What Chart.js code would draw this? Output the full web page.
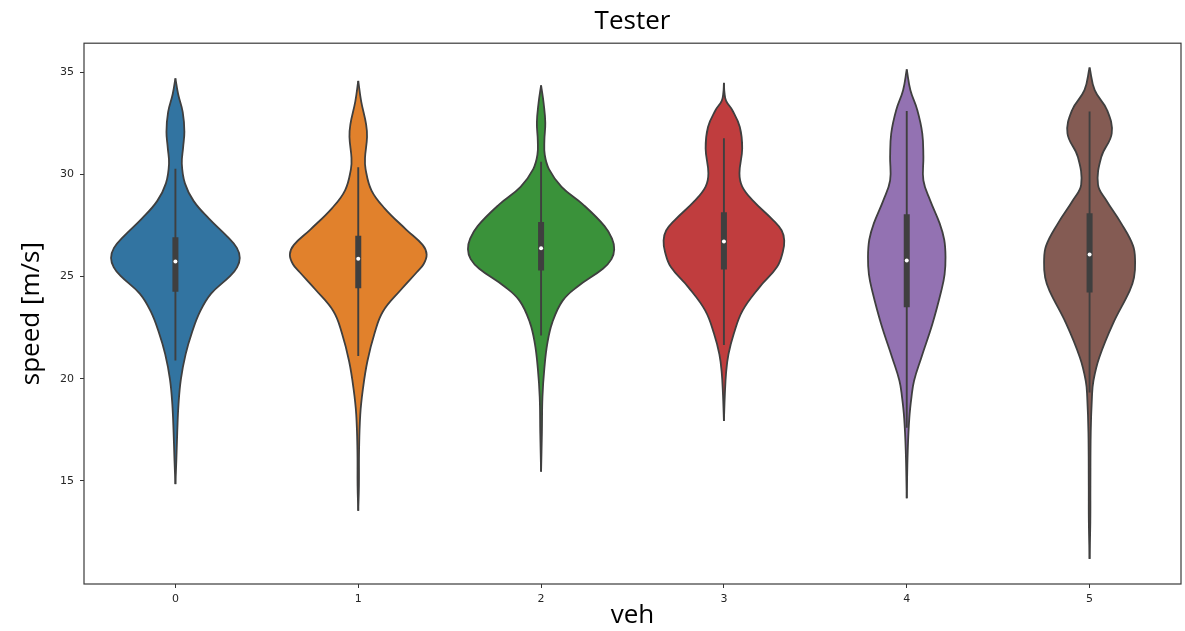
<!DOCTYPE html>
<html>
<head>
<meta charset="utf-8">
<title>Tester</title>
<script src="https://cdn.jsdelivr.net/npm/chart.js@4/dist/chart.umd.min.js"></script>
<style>
  html, body { margin: 0; padding: 0; background: #ffffff; }
  #wrap { width: 1185px; height: 631px; }
</style>
</head>
<body>
<div id="wrap"><canvas id="chart" width="1185" height="631"></canvas></div>
<script>
// Vehicle categories and y tick values
const categories = ['0', '1', '2', '3', '4', '5'];
const yTickValues = [15, 20, 25, 30, 35];
const fillColors = ['#3274a1', '#e1812c', '#3a923a', '#c03d3e', '#9372b2', '#845b53'];

// Kernel density outlines per vehicle: [speed m/s, half-width in category units]
const violin0 = [[14.84, 0], [15.98, 0.005], [17.37, 0.010], [18.76, 0.017], [19.98, 0.030], [21.20, 0.056],
  [22.25, 0.090], [23.29, 0.135], [24.16, 0.195], [25.03, 0.300], [25.45, 0.337], [25.91, 0.352],
  [26.40, 0.336], [26.95, 0.284], [27.82, 0.185], [28.69, 0.100], [29.56, 0.052], [30.52, 0.035],
  [31.31, 0.042], [32.09, 0.049], [33.05, 0.040], [33.92, 0.015], [34.70, 0]];
const violin1 = [[13.54, 0], [14.76, 0.0036], [16.50, 0.0045], [18.24, 0.011], [19.46, 0.025], [20.85, 0.050],
  [22.25, 0.090], [23.29, 0.135], [24.34, 0.232], [25.21, 0.320], [25.60, 0.357], [26.08, 0.374],
  [26.55, 0.352], [27.30, 0.262], [28.34, 0.144], [29.22, 0.072], [30.26, 0.040], [30.80, 0.037],
  [31.83, 0.048], [32.45, 0.043], [33.57, 0.016], [34.58, 0]];
const violin2 = [[15.45, 0], [17.37, 0.0045], [19.11, 0.0075], [20.51, 0.018], [21.72, 0.034], [22.77, 0.062],
  [23.82, 0.118], [24.51, 0.200], [25.38, 0.338], [25.85, 0.385], [26.34, 0.400], [26.85, 0.388],
  [27.47, 0.347], [28.52, 0.230], [29.39, 0.112], [30.26, 0.043], [30.96, 0.020], [31.65, 0.018],
  [32.53, 0.023], [33.48, 0.014], [34.36, 0]];
const violin3 = [[17.93, 0], [19.20, 0.005], [20.30, 0.012], [21.20, 0.025], [22.20, 0.054], [23.33, 0.102],
  [24.48, 0.195], [25.46, 0.290], [26.20, 0.322], [26.76, 0.330], [27.25, 0.316], [27.75, 0.270],
  [28.70, 0.160], [29.40, 0.100], [30.05, 0.085], [31.27, 0.100], [32.32, 0.087], [33.14, 0.046],
  [33.60, 0.012], [34.00, 0.003], [34.48, 0]];
const violin4 = [[14.15, 0], [16.50, 0.0055], [18.07, 0.014], [19.11, 0.026], [19.90, 0.040], [21.04, 0.080],
  [22.70, 0.141], [24.30, 0.189], [25.10, 0.207], [25.95, 0.212], [26.80, 0.205], [27.60, 0.180],
  [28.73, 0.128], [29.70, 0.091], [30.85, 0.091], [32.00, 0.085], [33.14, 0.058], [34.12, 0.020],
  [35.14, 0]];
const violin5 = [[11.18, 0], [13.00, 0.004], [14.76, 0.0045], [17.37, 0.0063], [19.11, 0.013], [19.90, 0.021],
  [21.04, 0.053], [22.70, 0.128], [24.30, 0.219], [24.95, 0.243], [25.70, 0.249], [26.50, 0.238],
  [27.60, 0.173], [28.73, 0.091], [29.50, 0.046], [30.85, 0.064], [32.00, 0.121], [33.14, 0.096],
  [34.12, 0.028], [35.23, 0]];
const violins = [violin0, violin1, violin2, violin3, violin4, violin5];

// Inner box summary per vehicle
const whiskerLow  = [20.89, 21.11, 22.11, 21.65, 17.60, 19.32];
const quartile1   = [24.25, 24.43, 25.30, 25.34, 23.50, 24.22];
const medianSpeed = [25.73, 25.87, 26.38, 26.72, 25.78, 26.08];
const quartile3   = [26.92, 26.99, 27.67, 28.15, 28.05, 28.10];
const whiskerHigh = [30.28, 30.35, 30.62, 31.77, 33.10, 33.08];

const gray = '#3f3f3f';
const datasets = [];

// Violin bodies: right edge followed by left edge, filled between the two
violins.forEach((profile, i) => {
  datasets.push({
    data: profile.map(([v, w]) => ({ x: i + w, y: v })),
    borderColor: gray, borderWidth: 1.8, pointRadius: 0,
    tension: 0.4, fill: false, order: 3
  });
  datasets.push({
    data: profile.map(([v, w]) => ({ x: i - w, y: v })),
    borderColor: gray, borderWidth: 1.8, pointRadius: 0,
    tension: 0.4, fill: '-1', backgroundColor: fillColors[i], order: 3
  });
});

// Whiskers and interquartile boxes
categories.forEach((c, i) => {
  datasets.push({
    data: [{ x: i, y: whiskerLow[i] }, { x: i, y: whiskerHigh[i] }],
    borderColor: gray, borderWidth: 1.9, pointRadius: 0, fill: false, order: 2
  });
  datasets.push({
    data: [{ x: i, y: quartile1[i] }, { x: i, y: quartile3[i] }],
    borderColor: gray, borderWidth: 6, borderCapStyle: 'butt', pointRadius: 0, fill: false, order: 1
  });
});

// Median markers
datasets.push({
  data: medianSpeed.map((m, i) => ({ x: i, y: m })),
  showLine: false, pointRadius: 2, pointBorderWidth: 0,
  pointBackgroundColor: '#ffffff', fill: false, order: 0
});

// Box frame around the plotting area
const frame = {
  id: 'frame',
  afterDatasetsDraw(chart) {
    const { ctx, chartArea: a } = chart;
    ctx.save();
    ctx.strokeStyle = '#3a3a3a';
    ctx.lineWidth = 1.2;
    ctx.strokeRect(a.left, a.top, a.right - a.left, a.bottom - a.top);
    ctx.restore();
  }
};

const tickFont = { family: 'DejaVu Sans', size: 11 };
const labelFont = { family: 'Open Sans', size: 26, weight: 'normal' };

new Chart(document.getElementById('chart'), {
  type: 'line',
  data: { datasets },
  plugins: [frame],
  options: {
    responsive: false,
    devicePixelRatio: 1,
    animation: false,
    events: [],
    indexAxis: 'y',
    layout: { padding: { left: 0, right: 4, top: 0, bottom: 0 } },
    plugins: {
      legend: { display: false },
      tooltip: { enabled: false },
      title: {
        display: true, text: 'Tester', fullSize: false,
        color: '#000000', font: labelFont, padding: { top: 6, bottom: 6 }
      }
    },
    scales: {
      x: {
        type: 'linear', min: -0.5, max: 5.5,
        afterBuildTicks: s => { s.ticks = categories.map((c, i) => ({ value: i })); },
        afterFit: s => { s.height = 47; },
        grid: { display: true, drawOnChartArea: false, drawTicks: true, tickLength: 4, tickColor: '#333333' },
        border: { display: false },
        ticks: {
          autoSkip: false, maxRotation: 0, padding: 5, color: '#262626', font: tickFont,
          callback: v => categories[v]
        },
        title: { display: true, text: 'veh', color: '#000000', font: labelFont, padding: { top: 0, bottom: 0 } }
      },
      y: {
        type: 'linear', min: 9.95, max: 36.42,
        afterBuildTicks: s => { s.ticks = yTickValues.map(v => ({ value: v })); },
        afterFit: s => { s.width = 84; },
        grid: { display: true, drawOnChartArea: false, drawTicks: true, tickLength: 4, tickColor: '#333333' },
        border: { display: false },
        ticks: { padding: 6, color: '#262626', font: tickFont },
        title: { display: true, text: 'speed [m/s]', color: '#000000', font: labelFont, padding: { top: 16, bottom: 0 } }
      }
    }
  }
});
</script>
</body>
</html>
